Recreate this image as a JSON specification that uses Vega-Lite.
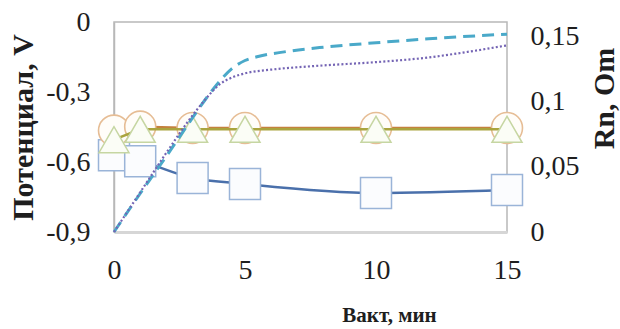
{
  "$schema": "https://vega.github.io/schema/vega-lite/v6.json",
  "autosize": {"type": "none"},
  "padding": {"left": 114, "top": 22, "right": 113, "bottom": 97},
  "width": 393,
  "height": 210,
  "background": "white",
  "config": {
    "view": {"stroke": "#b8b8b8", "strokeWidth": 1.5},
    "font": "Liberation Serif",
    "axis": {"grid": false, "ticks": false, "labelFlush": false, "labelFont": "Liberation Serif", "titleFont": "Liberation Serif", "labelColor": "#1e1e1e", "titleColor": "#1e1e1e"}
  },
  "datasets": {
    "markers": [
      {"t": 0, "series": "sq", "rn": 0.059},
      {"t": 1, "series": "sq", "rn": 0.0545},
      {"t": 3, "series": "sq", "rn": 0.0415},
      {"t": 5, "series": "sq", "rn": 0.037},
      {"t": 10, "series": "sq", "rn": 0.030},
      {"t": 15, "series": "sq", "rn": 0.0323},
      {"t": 0, "series": "ci", "rn": 0.078},
      {"t": 1, "series": "ci", "rn": 0.081},
      {"t": 3, "series": "ci", "rn": 0.080},
      {"t": 5, "series": "ci", "rn": 0.080},
      {"t": 10, "series": "ci", "rn": 0.080},
      {"t": 15, "series": "ci", "rn": 0.080},
      {"t": 0, "series": "tr", "rn": 0.071},
      {"t": 1, "series": "tr", "rn": 0.079},
      {"t": 3, "series": "tr", "rn": 0.079},
      {"t": 5, "series": "tr", "rn": 0.079},
      {"t": 10, "series": "tr", "rn": 0.079},
      {"t": 15, "series": "tr", "rn": 0.079}
    ],
    "curves": [
      {"t": 0, "series": "dash", "v": -0.9},
      {"t": 1, "series": "dash", "v": -0.735},
      {"t": 2, "series": "dash", "v": -0.575},
      {"t": 3, "series": "dash", "v": -0.41},
      {"t": 3.5, "series": "dash", "v": -0.33},
      {"t": 4, "series": "dash", "v": -0.258},
      {"t": 4.5, "series": "dash", "v": -0.2},
      {"t": 5, "series": "dash", "v": -0.165},
      {"t": 5.5, "series": "dash", "v": -0.148},
      {"t": 6.5, "series": "dash", "v": -0.128},
      {"t": 8, "series": "dash", "v": -0.108},
      {"t": 10, "series": "dash", "v": -0.089},
      {"t": 12, "series": "dash", "v": -0.072},
      {"t": 15, "series": "dash", "v": -0.052},
      {"t": 0, "series": "dot", "v": -0.9},
      {"t": 1, "series": "dot", "v": -0.73},
      {"t": 2, "series": "dot", "v": -0.56},
      {"t": 3, "series": "dot", "v": -0.4},
      {"t": 3.5, "series": "dot", "v": -0.33},
      {"t": 4, "series": "dot", "v": -0.27},
      {"t": 4.5, "series": "dot", "v": -0.238},
      {"t": 5, "series": "dot", "v": -0.22},
      {"t": 6, "series": "dot", "v": -0.204},
      {"t": 7, "series": "dot", "v": -0.194},
      {"t": 8, "series": "dot", "v": -0.186},
      {"t": 10, "series": "dot", "v": -0.172},
      {"t": 12, "series": "dot", "v": -0.152},
      {"t": 13.5, "series": "dot", "v": -0.128},
      {"t": 15, "series": "dot", "v": -0.1}
    ]
  },
  "encoding": {
    "x": {
      "field": "t", "type": "quantitative",
      "scale": {"domain": [0, 15], "nice": false},
      "axis": {
        "values": [0, 5, 10, 15], "labelFontSize": 28, "labelPadding": 24,
        "domainColor": "#d6d6d6", "domainWidth": 3,
        "title": "Вакт, мин", "titleFontSize": 21, "titleFontWeight": "bold",
        "titleX": 275, "titleY": 83, "titleBaseline": "middle", "titleAlign": "center"
      }
    }
  },
  "layer": [
    {
      "data": {"name": "markers"},
      "encoding": {
        "y": {"field": "rn", "type": "quantitative", "scale": {"domain": [0, 0.1615], "nice": false, "zero": true}}
      },
      "layer": [
        {
          "transform": [{"filter": "datum.series === 'sq'"}],
          "mark": {"type": "line", "color": "#4a70ab", "strokeWidth": 2.5, "interpolate": "monotone"},
          "encoding": {
            "y": {
              "field": "rn", "type": "quantitative",
              "axis": {
                "orient": "right", "values": [0, 0.05, 0.1, 0.15], "labelFontSize": 28, "labelPadding": 23,
                "labelExpr": "replace(toString(datum.value), '.', ',')",
                "domain": false,
                "title": "Rn, Om", "titleFontSize": 30, "titleFontWeight": "bold",
                "titleAngle": 270, "titleX": 97, "titleY": 76, "titleBaseline": "middle", "titleAlign": "center"
              }
            }
          }
        },
        {
          "transform": [{"filter": "datum.series === 'sq'"}],
          "mark": {"type": "point", "shape": "square", "size": 961, "filled": false, "fill": "#fbfcfe", "fillOpacity": 1, "stroke": "#9ab4d8", "strokeWidth": 1.5, "opacity": 1}
        },
        {
          "transform": [{"filter": "datum.series === 'ci'"}],
          "mark": {"type": "line", "color": "#c4813e", "strokeWidth": 2.5}
        },
        {
          "transform": [{"filter": "datum.series === 'ci'"}],
          "mark": {"type": "point", "shape": "circle", "size": 961, "filled": false, "fill": "#fffdf9", "fillOpacity": 1, "stroke": "#e6bd95", "strokeWidth": 1.6, "opacity": 1}
        },
        {
          "transform": [{"filter": "datum.series === 'tr'"}],
          "mark": {"type": "line", "color": "#aaa43e", "strokeWidth": 2.5}
        },
        {
          "transform": [{"filter": "datum.series === 'tr'"}],
          "mark": {"type": "point", "shape": "triangle-up", "size": 900, "filled": false, "fill": "#fbfdf6", "fillOpacity": 1, "stroke": "#c6d6a2", "strokeWidth": 1.5, "opacity": 1}
        }
      ]
    },
    {
      "data": {"name": "curves"},
      "encoding": {
        "y": {
          "field": "v", "type": "quantitative",
          "scale": {"domain": [-0.9, 0], "nice": false, "zero": false},
          "axis": {
            "orient": "left", "values": [0, -0.3, -0.6, -0.9], "labelFontSize": 28, "labelPadding": 24,
            "labelExpr": "replace(toString(datum.value), '.', ',')",
            "domainColor": "#b8b8b8", "domainWidth": 1.5,
            "title": "Потенциал, V", "titleFontSize": 30, "titleFontWeight": "bold",
            "titleAngle": 270, "titleX": -91, "titleY": 105, "titleBaseline": "middle", "titleAlign": "center"
          }
        }
      },
      "layer": [
        {
          "transform": [{"filter": "datum.series === 'dash'"}],
          "mark": {"type": "line", "color": "#4aa9c9", "strokeWidth": 3, "strokeDash": [12, 7], "interpolate": "monotone"}
        },
        {
          "transform": [{"filter": "datum.series === 'dot'"}],
          "mark": {"type": "line", "color": "#7464b4", "strokeWidth": 2.2, "strokeDash": [2, 2.2], "interpolate": "monotone"}
        }
      ]
    }
  ],
  "resolve": {"scale": {"y": "independent"}}
}
